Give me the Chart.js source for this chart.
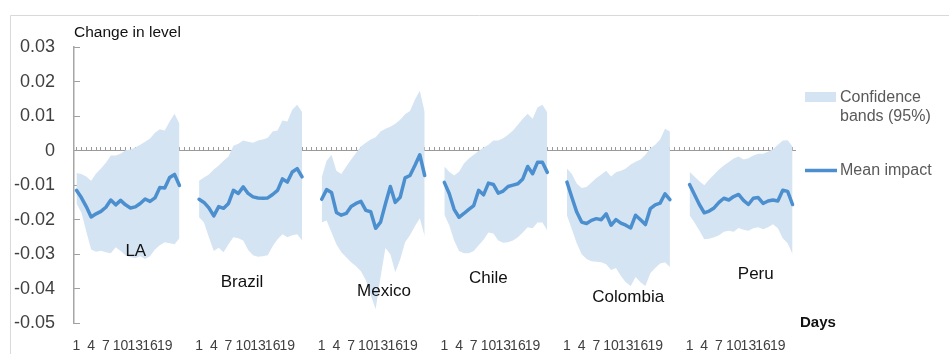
<!DOCTYPE html>
<html>
<head>
<meta charset="utf-8">
<script src="https://cdn.jsdelivr.net/npm/chart.js@4.4.1/dist/chart.umd.min.js"></script>
<style>
  html, body { margin: 0; padding: 0; background: #ffffff; }
  #wrap { width: 949px; height: 354px; }
</style>
</head>
<body>
<div id="wrap"><canvas id="c" width="949" height="354"></canvas></div>
<script>
// ---------------- DATA ----------------
const groups = ['LA', 'Brazil', 'Mexico', 'Chile', 'Colombia', 'Peru'];
const dayLabels = ['1','2','3','4','5','6','7','8','9','10','11','12','13','14','15','16','17','18','19','20','21','22'];
const xTickLabels = ['1','4','7','10','13','16','19'];
const yTickLabels = ['0.03','0.02','0.01','0','-0.01','-0.02','-0.03','-0.04','-0.05'];

const laMean  = [-0.0115,-0.0136,-0.0162,-0.0192,-0.0183,-0.0176,-0.0164,-0.0143,-0.0157,-0.0144,-0.0157,-0.0166,-0.0163,-0.0153,-0.0140,-0.0147,-0.0137,-0.0107,-0.0108,-0.0078,-0.0069,-0.0101];
const laUpper = [-0.0065,-0.0068,-0.0075,-0.0087,-0.0066,-0.0052,-0.0035,-0.0014,-0.0014,-0.0009,0.0001,0.0003,0.0009,0.0017,0.0026,0.0035,0.0052,0.0062,0.0058,0.0084,0.0107,0.0078];
const laLower = [-0.0153,-0.0179,-0.0234,-0.0286,-0.0293,-0.0290,-0.0294,-0.0297,-0.0280,-0.0291,-0.0303,-0.0309,-0.0312,-0.0306,-0.0314,-0.0306,-0.0286,-0.0274,-0.0265,-0.0268,-0.0271,-0.0254];

const brazilMean  = [-0.0141,-0.0150,-0.0166,-0.0189,-0.0162,-0.0167,-0.0153,-0.0115,-0.0124,-0.0105,-0.0124,-0.0134,-0.0137,-0.0138,-0.0137,-0.0127,-0.0115,-0.0082,-0.0091,-0.0062,-0.0052,-0.0076];
const brazilUpper = [-0.0087,-0.0078,-0.0069,-0.0055,-0.0043,-0.0029,-0.0017,0.0014,0.0020,0.0029,0.0026,0.0023,0.0029,0.0032,0.0037,0.0055,0.0058,0.0087,0.0084,0.0118,0.0133,0.0112];
const brazilLower = [-0.0193,-0.0208,-0.0251,-0.0291,-0.0281,-0.0294,-0.0271,-0.0251,-0.0254,-0.0260,-0.0288,-0.0303,-0.0307,-0.0306,-0.0303,-0.0277,-0.0257,-0.0242,-0.0251,-0.0245,-0.0242,-0.0260];

const mexicoMean  = [-0.0141,-0.0113,-0.0121,-0.0179,-0.0187,-0.0182,-0.0162,-0.0153,-0.0147,-0.0173,-0.0177,-0.0225,-0.0207,-0.0154,-0.0104,-0.0150,-0.0135,-0.0079,-0.0072,-0.0043,-0.0012,-0.0072];
const mexicoUpper = [-0.0078,-0.0029,-0.0012,-0.0058,-0.0068,-0.0046,-0.0026,-0.0007,0.0012,0.0023,0.0032,0.0039,0.0055,0.0063,0.0069,0.0078,0.0089,0.0105,0.0115,0.0147,0.0173,0.0112];
const mexicoLower = [-0.0208,-0.0202,-0.0237,-0.0271,-0.0294,-0.0309,-0.0323,-0.0335,-0.0349,-0.0375,-0.0418,-0.0459,-0.0366,-0.0282,-0.0300,-0.0352,-0.0315,-0.0265,-0.0245,-0.0219,-0.0196,-0.0248];

const chileMean  = [-0.0092,-0.0124,-0.0170,-0.0193,-0.0182,-0.0170,-0.0159,-0.0115,-0.0128,-0.0094,-0.0098,-0.0123,-0.0117,-0.0104,-0.0100,-0.0096,-0.0082,-0.0046,-0.0067,-0.0034,-0.0034,-0.0063];
const chileUpper = [-0.0046,-0.0061,-0.0072,-0.0061,-0.0037,-0.0023,-0.0012,-0.0001,0.0009,0.0017,0.0029,0.0029,0.0036,0.0046,0.0058,0.0075,0.0092,0.0107,0.0092,0.0125,0.0133,0.0110];
const chileLower = [-0.0185,-0.0216,-0.0260,-0.0291,-0.0297,-0.0297,-0.0291,-0.0274,-0.0258,-0.0237,-0.0240,-0.0260,-0.0267,-0.0265,-0.0260,-0.0251,-0.0237,-0.0222,-0.0225,-0.0208,-0.0208,-0.0231];

const colombiaMean  = [-0.0091,-0.0135,-0.0178,-0.0207,-0.0211,-0.0202,-0.0197,-0.0200,-0.0183,-0.0216,-0.0200,-0.0210,-0.0216,-0.0224,-0.0187,-0.0200,-0.0214,-0.0168,-0.0157,-0.0152,-0.0125,-0.0142];
const colombiaUpper = [-0.0052,-0.0068,-0.0095,-0.0108,-0.0105,-0.0092,-0.0079,-0.0069,-0.0058,-0.0075,-0.0063,-0.0058,-0.0052,-0.0040,-0.0032,-0.0026,-0.0012,0.0007,0.0017,0.0032,0.0063,0.0055];
const colombiaLower = [-0.0187,-0.0228,-0.0268,-0.0300,-0.0314,-0.0320,-0.0322,-0.0323,-0.0329,-0.0346,-0.0340,-0.0363,-0.0381,-0.0392,-0.0366,-0.0381,-0.0392,-0.0355,-0.0340,-0.0327,-0.0323,-0.0337];

const peruMean  = [-0.0098,-0.0127,-0.0156,-0.0180,-0.0175,-0.0166,-0.0150,-0.0138,-0.0143,-0.0133,-0.0127,-0.0144,-0.0156,-0.0138,-0.0136,-0.0153,-0.0146,-0.0143,-0.0146,-0.0115,-0.0118,-0.0156];
const peruUpper = [-0.0061,-0.0075,-0.0089,-0.0100,-0.0084,-0.0069,-0.0055,-0.0043,-0.0033,-0.0023,-0.0017,-0.0026,-0.0022,-0.0014,-0.0009,-0.0009,-0.0003,0.0004,0.0017,0.0029,0.0030,0.0012];
const peruLower = [-0.0187,-0.0208,-0.0231,-0.0257,-0.0255,-0.0251,-0.0245,-0.0235,-0.0232,-0.0235,-0.0224,-0.0229,-0.0232,-0.0225,-0.0222,-0.0228,-0.0222,-0.0213,-0.0225,-0.0254,-0.0268,-0.0300];

// group-name annotation anchors: position within group (in days) and value level
const groupLabelDay   = [12.1, 8.75, 12.7, 9.0, 12.5, 13.5];
const groupLabelValue = [-0.0291, -0.0381, -0.0407, -0.0369, -0.0424, -0.0358];

const GAP = 3; // empty categories between country blocks

// ---------------- BUILD TABLE ----------------
const meanSets  = [laMean, brazilMean, mexicoMean, chileMean, colombiaMean, peruMean];
const upperSets = [laUpper, brazilUpper, mexicoUpper, chileUpper, colombiaUpper, peruUpper];
const lowerSets = [laLower, brazilLower, mexicoLower, chileLower, colombiaLower, peruLower];

function joinBlocks(blocks, filler) {
  const out = [];
  blocks.forEach((b, gi) => {
    b.forEach(v => out.push(v));
    if (gi < blocks.length - 1) for (let k = 0; k < GAP; k++) out.push(filler);
  });
  return out;
}
const labels = joinBlocks(groups.map(() => dayLabels), '');
const meanAll  = joinBlocks(meanSets, null);
const upperAll = joinBlocks(upperSets, null);
const lowerAll = joinBlocks(lowerSets, null);
const blockLen = dayLabels.length + GAP;

// ---------------- STYLE ----------------
const BAND = '#d5e4f3';
const LINE = '#4c8fcf';
const FONT = "'Liberation Sans', Arial, Helvetica, sans-serif";
Chart.defaults.font.family = FONT;

const annotations = {
  id: 'annotations',
  beforeDraw(chart) {
    const ctx = chart.ctx;
    ctx.save();
    ctx.strokeStyle = '#d9d9d9';
    ctx.lineWidth = 1;
    ctx.beginPath();
    ctx.moveTo(10.5, 354);
    ctx.lineTo(10.5, 15.5);
    ctx.lineTo(949, 15.5);
    ctx.stroke();
    ctx.restore();
  },
  afterDraw(chart) {
    const ctx = chart.ctx;
    const xs = chart.scales.x, ys = chart.scales.y;
    const area = chart.chartArea;
    ctx.save();
    // country names
    ctx.fillStyle = '#111';
    ctx.font = '17px ' + FONT;
    ctx.textAlign = 'center';
    ctx.textBaseline = 'middle';
    groups.forEach((g, i) => {
      const px = xs.getPixelForValue(i * blockLen + groupLabelDay[i]);
      const py = ys.getPixelForValue(groupLabelValue[i]);
      ctx.fillText(g, px, py);
    });
    // "Days"
    ctx.font = 'bold 15px ' + FONT;
    ctx.textAlign = 'left';
    ctx.fillStyle = '#111';
    ctx.fillText('Days', area.right + 5, area.bottom);
    // legend
    const lx = area.right + 10;
    ctx.fillStyle = BAND;
    ctx.fillRect(lx, 92, 31, 10);
    ctx.strokeStyle = LINE;
    ctx.lineWidth = 3.5;
    ctx.beginPath();
    ctx.moveTo(lx, 170.5);
    ctx.lineTo(lx + 32, 170.5);
    ctx.stroke();
    ctx.fillStyle = '#595959';
    ctx.font = '16px ' + FONT;
    ctx.fillText('Confidence', lx + 35, 97.5);
    ctx.fillText('bands (95%)', lx + 35, 117);
    ctx.fillText('Mean impact', lx + 35, 171);
    ctx.restore();
  }
};

new Chart(document.getElementById('c'), {
  type: 'line',
  data: {
    labels: labels,
    datasets: [
      { label: 'Mean impact', data: meanAll, borderColor: LINE, borderWidth: 3.5,
        pointRadius: 0, fill: false, tension: 0, borderJoinStyle: 'round', borderCapStyle: 'round' },
      { label: 'Confidence bands (95%)', data: upperAll, borderWidth: 0, borderColor: 'rgba(0,0,0,0)',
        backgroundColor: BAND, pointRadius: 0, fill: '+1', tension: 0 },
      { label: 'lower', data: lowerAll, borderWidth: 0, borderColor: 'rgba(0,0,0,0)',
        backgroundColor: BAND, pointRadius: 0, fill: false, tension: 0 }
    ]
  },
  options: {
    responsive: false,
    animation: false,
    devicePixelRatio: 1,
    layout: { padding: { left: 0, right: 154, top: 0, bottom: 0 } },
    plugins: {
      legend: { display: false },
      tooltip: { enabled: false },
      title: {
        display: true, text: 'Change in level', align: 'start', fullSize: false,
        color: '#111', font: { size: 15.5, weight: 'normal', lineHeight: 1.2 },
        padding: { top: 23, bottom: 5.4 }
      }
    },
    scales: {
      x: {
        type: 'category', position: 'bottom', offset: true,
        grid: { display: false, drawTicks: false },
        border: { display: false },
        ticks: {
          autoSkip: false, maxRotation: 0, minRotation: 0, padding: 14.5,
          color: '#404040', font: { size: 14 },
          callback: function (v) { const l = this.getLabelForValue(v); return xTickLabels.includes(l) ? l : ''; }
        },
        afterFit: s => { s.height = 30.7; }
      },
      xZero: {
        type: 'category', axis: 'x', position: { y: 0 }, offset: true,
        ticks: { display: false },
        grid: { drawOnChartArea: false, drawTicks: true, tickLength: -4, color: '#9a9a9a', lineWidth: 1 },
        border: { display: true, color: '#9a9a9a', width: 1 }
      },
      y: {
        position: 'left', min: -0.05, max: 0.03,
        ticks: {
          stepSize: 0.01, padding: 25, color: '#404040', font: { size: 18 },
          callback: v => yTickLabels[Math.round((0.03 - v) / 0.01)]
        },
        grid: { drawOnChartArea: false, drawTicks: true, tickLength: -6, color: '#a0a0a0', lineWidth: 1 },
        border: { display: true, color: '#a6a6a6', width: 1.5 },
        afterFit: s => { s.width = 74; s.paddingBottom = 8; s.paddingTop = 8; }
      }
    }
  },
  plugins: [annotations]
});
</script>
</body>
</html>
